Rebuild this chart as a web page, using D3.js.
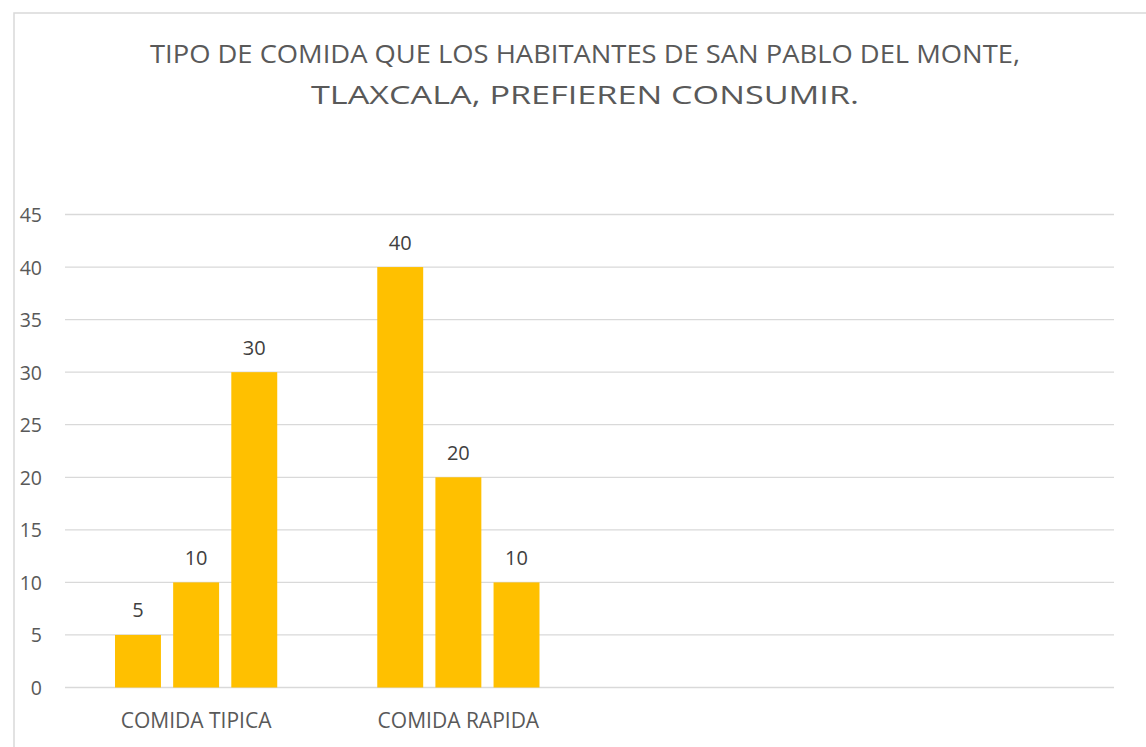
<!DOCTYPE html>
<html>
<head>
<meta charset="utf-8">
<script src="https://cdn.jsdelivr.net/npm/d3@7/dist/d3.min.js"></script>
<style>
  html, body { margin: 0; padding: 0; background: #fff; }
  svg { display: block; }
</style>
</head>
<body>
<svg id="chart" width="1146" height="747"></svg>
<script>
// ---- data ----
const titleLines = ["TIPO DE COMIDA QUE LOS HABITANTES DE SAN PABLO DEL MONTE,", "TLAXCALA, PREFIEREN CONSUMIR."];
const categories = ["COMIDA TIPICA", "COMIDA RAPIDA", "", ""];
const seriesNames = ["Serie 1", "Serie 2", "Serie 3"];
const serie1 = [5, 40, null, null];
const serie2 = [10, 20, null, null];
const serie3 = [30, 10, null, null];
const yTicks = [0, 5, 10, 15, 20, 25, 30, 35, 40, 45];

const seriesValues = [serie1, serie2, serie3];
const barColor = "#FFC000";

const svg = d3.select("#chart");
const font = "'Open Sans', 'Noto Sans', sans-serif";

// chart border (runs off canvas on right/bottom like the reference)
svg.append("rect")
  .attr("x", 14).attr("y", 13)
  .attr("width", 1160).attr("height", 760)
  .attr("fill", "#fff")
  .attr("stroke", "#d9d9d9")
  .attr("stroke-width", 1.5);

// title
const titleW = [870, 548];
svg.append("g").selectAll("text")
  .data(titleLines)
  .join("text")
  .attr("x", 585)
  .attr("y", (d, i) => 63 + i * 41)
  .attr("text-anchor", "middle")
  .attr("font-family", font)
  .attr("font-size", 26)
  .attr("fill", "#595959")
  .attr("textLength", (d, i) => titleW[i])
  .attr("lengthAdjust", "spacingAndGlyphs")
  .text(d => d);

// scales
const plot = { left: 65, right: 1114, top: 214.5, bottom: 687.5 };
const x0 = d3.scaleBand()
  .domain(d3.range(categories.length))
  .range([plot.left, plot.right])
  .paddingInner(0).paddingOuter(0);
const bw = x0.bandwidth();
const x1 = d3.scaleBand()
  .domain(d3.range(seriesNames.length))
  .range([bw * 0.1907, bw * 0.8093])
  .paddingInner(0.21).paddingOuter(0);
const y = d3.scaleLinear().domain([0, 45]).range([plot.bottom, plot.top]);

// gridlines
svg.append("g").selectAll("line")
  .data(yTicks)
  .join("line")
  .attr("x1", plot.left).attr("x2", plot.right)
  .attr("y1", d => y(d)).attr("y2", d => y(d))
  .attr("stroke", "#d9d9d9")
  .attr("stroke-width", 1.3);

// y axis labels
const yAxis = d3.axisLeft(y).tickValues(yTicks).tickSize(0).tickPadding(0);
const yg = svg.append("g").attr("transform", "translate(42,0)").call(yAxis);
yg.select(".domain").remove();
yg.selectAll("text")
  .attr("font-family", font)
  .attr("font-size", 19.5)
  .attr("fill", "#595959")
  .attr("dy", "0.36em");

// x axis labels
const xAxis = d3.axisBottom(x0).tickFormat(i => categories[i]).tickSize(0).tickPadding(0);
const xg = svg.append("g").attr("transform", "translate(0,709)").call(xAxis);
xg.select(".domain").remove();
xg.selectAll("text")
  .attr("font-family", font)
  .attr("font-size", 21)
  .attr("fill", "#595959")
  .attr("dy", "0.9em");

// bars
const flat = [];
categories.forEach((c, ci) => {
  seriesValues.forEach((s, si) => {
    if (s[ci] != null) flat.push({ ci, si, v: s[ci] });
  });
});

svg.append("g").selectAll("rect")
  .data(flat)
  .join("rect")
  .attr("x", d => x0(d.ci) + x1(d.si))
  .attr("width", x1.bandwidth())
  .attr("y", d => y(d.v))
  .attr("height", d => y(0) - y(d.v))
  .attr("fill", barColor);

// data labels
svg.append("g").selectAll("text")
  .data(flat)
  .join("text")
  .attr("x", d => x0(d.ci) + x1(d.si) + x1.bandwidth() / 2)
  .attr("y", d => y(d.v) - 17.5)
  .attr("text-anchor", "middle")
  .attr("font-family", font)
  .attr("font-size", 20)
  .attr("fill", "#404040")
  .text(d => d.v);
</script>
</body>
</html>
